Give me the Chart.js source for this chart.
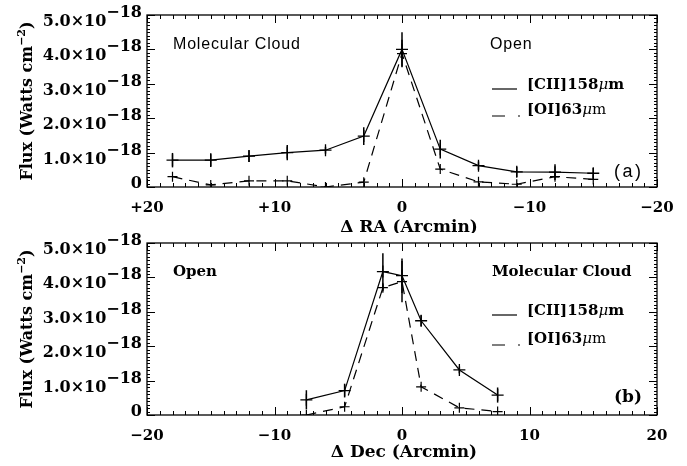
<!DOCTYPE html>
<html>
<head>
<meta charset="utf-8">
<script src="https://cdn.jsdelivr.net/npm/chart.js@4.4.0/dist/chart.umd.min.js"></script>
<style>
html, body { margin: 0; padding: 0; background: #fff; }
#wrap { position: relative; width: 687px; height: 466px; }
.panel { position: absolute; left: 0; width: 687px; height: 233px; }
</style>
</head>
<body>
<div id="wrap">
  <div class="panel" style="top:0"><canvas id="graphRA"></canvas></div>
  <div class="panel" style="top:233px"><canvas id="graphDec"></canvas></div>
</div>
<script>
// offsets in arcmin, flux in units of 1e-18 Watts cm^-2

// panel (a) : cut in RA
var ra_offsets = [18, 15, 12, 9, 6, 3, 0, -3, -6, -9, -12, -15];
var ra_cii     = [0.78, 0.78, 0.90, 1.00, 1.07, 1.48, 4.00, 1.10, 0.62, 0.44, 0.43, 0.40];
var ra_cii_err = [0.21, 0.20, 0.17, 0.22, 0.10, 0.26, 0.50, 0.27, 0.12, 0.15, 0.23, 0.15];
var ra_oi      = [0.30, 0.06, 0.18, 0.18, 0.00, 0.14, 3.88, 0.52, 0.15, 0.08, 0.30, 0.22];
var ra_oi_err  = [0, 0, 0, 0, 0, 0, 0.40, 0, 0, 0, 0, 0];

// panel (b) : cut in Dec
var dec_offsets = [-7.5, -4.5, -1.5, 0, 1.5, 4.5, 7.5];
var dec_cii     = [0.44, 0.71, 4.17, 4.05, 2.74, 1.31, 0.58];
var dec_cii_err = [0.28, 0.20, 0.53, 0.50, 0.16, 0.10, 0.22];
var dec_oi      = [0.00, 0.24, 3.70, 3.88, 0.82, 0.21, 0.10];
var dec_oi_err  = [0, 0, 0.10, 0.60, 0, 0, 0];

// axes
var y_ticks = [0, 1, 2, 3, 4, 5];
var y_exponent = "−18";
var legend_labels = ["[CII]158", "[OI]63"];

var SERIF_B = 'bold 15px "DejaVu Serif"';
var YLAB_F = 'bold 16px "DejaVu Serif"';

function toPoints(xs, ys){
    var pts = [];
    for(let i = 0; i < xs.length; i++){
        pts.push({x: xs[i], y: ys[i]});
    }
    return pts;
}

// text with a raised exponent, right aligned
function drawSupRight(ctx, base, sup, x, y, raise){
    var wb = ctx.measureText(base).width;
    var ws = ctx.measureText(sup).width;
    ctx.textAlign = "left";
    ctx.fillText(base, x - wb - ws, y);
    ctx.fillText(sup, x - ws, y - raise);
}

// frame, inward ticks, labels, error bars, notes and legend (IDL look)
var idlPlugin = {
    id: "idl",
    afterDatasetsDraw(chart, args, opts){
        var ctx = chart.ctx;
        var a = chart.chartArea;
        var xs = chart.scales.x, ys = chart.scales.y;
        ctx.save();
        ctx.strokeStyle = "#000";
        ctx.fillStyle = "#000";

        // error bars
        ctx.lineWidth = 1.5;
        chart.data.datasets.forEach(function(ds){
            ds.data.forEach(function(p, i){
                var e = ds.errors[i];
                if(!e) return;
                var px = xs.getPixelForValue(p.x);
                ctx.beginPath();
                ctx.moveTo(px, ys.getPixelForValue(p.y - e));
                ctx.lineTo(px, ys.getPixelForValue(p.y + e));
                ctx.stroke();
            });
        });

        // box
        ctx.lineWidth = 1.3;
        ctx.strokeRect(a.left, a.top, a.right - a.left, a.bottom - a.top);

        // x ticks, every arcmin
        ctx.lineWidth = 1;
        for(let v = -20; v <= 20; v++){
            var px = Math.round(xs.getPixelForValue(v)) + 0.5;
            var len = (v % 10 == 0) ? 8 : 4;
            ctx.beginPath();
            ctx.moveTo(px, a.bottom); ctx.lineTo(px, a.bottom - len);
            ctx.moveTo(px, a.top); ctx.lineTo(px, a.top + len);
            ctx.stroke();
        }
        // y ticks, every 0.1
        for(let k = 0; k <= 50; k++){
            var py = Math.round(ys.getPixelForValue(k / 10)) + 0.5;
            var len = (k % 10 == 0) ? 8 : 3;
            ctx.beginPath();
            ctx.moveTo(a.left, py); ctx.lineTo(a.left + len, py);
            ctx.moveTo(a.right, py); ctx.lineTo(a.right - len, py);
            ctx.stroke();
        }

        // y tick labels
        ctx.font = YLAB_F;
        ctx.textBaseline = "alphabetic";
        y_ticks.forEach(function(v){
            var py = ys.getPixelForValue(v);
            if(v == 0){
                ctx.textAlign = "right";
                ctx.fillText("0", a.left - 5, py + 1);
            } else {
                drawSupRight(ctx, v.toFixed(1) + "×10", y_exponent, a.left - 5, py + 11, 9);
            }
        });

        // y title (rotated)
        ctx.save();
        ctx.translate(32, (a.top + a.bottom) / 2);
        ctx.rotate(-Math.PI / 2);
        ctx.font = 'bold 16px "DejaVu Serif"';
        var t1 = "Flux (Watts cm", t2 = "−2", t3 = ")";
        var w1 = ctx.measureText(t1).width, w3 = ctx.measureText(t3).width;
        ctx.font = 'bold 11px "DejaVu Serif"';
        var w2 = ctx.measureText(t2).width;
        var x0 = -(w1 + w2 + w3) / 2;
        ctx.textAlign = "left";
        ctx.font = 'bold 16px "DejaVu Serif"';
        ctx.fillText(t1, x0, 0);
        ctx.fillText(t3, x0 + w1 + w2, 0);
        ctx.font = 'bold 11px "DejaVu Serif"';
        ctx.fillText(t2, x0 + w1, -7);
        ctx.restore();

        // x title
        ctx.font = 'bold 17px "DejaVu Serif"';
        ctx.textAlign = "center";
        ctx.textBaseline = "middle";
        ctx.fillText(opts.xtitle, (a.left + a.right) / 2 + opts.xtitleDx, a.bottom + opts.xtitleDy);

        // notes
        opts.notes.forEach(function(n){
            ctx.font = n.font;
            ctx.letterSpacing = n.spacing || "0px";
            ctx.textAlign = "left";
            ctx.textBaseline = "middle";
            ctx.fillText(n.text, n.x, a.top + n.dy);
        });
        ctx.letterSpacing = "0px";

        // legend
        var lg = opts.legend;
        ctx.lineWidth = 1.2;
        ctx.beginPath();
        ctx.moveTo(lg.x, a.top + lg.dy1 + 4); ctx.lineTo(lg.x + 25, a.top + lg.dy1 + 4);
        ctx.stroke();
        ctx.beginPath();
        ctx.moveTo(lg.x, a.top + lg.dy2 + 6); ctx.lineTo(lg.x + 13, a.top + lg.dy2 + 6);
        ctx.moveTo(lg.x + 26, a.top + lg.dy2 + 6); ctx.lineTo(lg.x + 28, a.top + lg.dy2 + 6);
        ctx.stroke();
        ctx.textBaseline = "middle";
        [lg.dy1, lg.dy2].forEach(function(dy, i){
            ctx.font = SERIF_B;
            ctx.textAlign = "left";
            var tx = lg.x + 35;
            ctx.fillText(legend_labels[i], tx, a.top + dy);
            tx += ctx.measureText(legend_labels[i]).width;
            ctx.font = 'italic 15px "DejaVu Serif"';
            ctx.fillText("μ", tx, a.top + dy);
            tx += ctx.measureText("μ").width;
            ctx.font = i == 0 ? SERIF_B : '15px "DejaVu Serif"';
            ctx.fillText("m", tx, a.top + dy);
        });

        ctx.restore();
    }
};

function makeChart(id, offsets, cii, ciiErr, oi, oiErr, reverse, xHeight, padTop, pluginOpts){
    var ctx = document.getElementById(id).getContext("2d");
    return new Chart(ctx, {
        type: "line",
        data: {
            datasets: [
                {
                    label: "[CII]158μm",
                    data: toPoints(offsets, cii),
                    errors: ciiErr,
                    borderColor: "#000",
                    borderWidth: 1.2,
                    pointStyle: "cross",
                    pointRadius: 6,
                    pointBorderWidth: 1.3,
                    pointBorderColor: "#000",
                    tension: 0
                },
                {
                    label: "[OI]63μm",
                    data: toPoints(offsets, oi),
                    errors: oiErr,
                    borderColor: "#000",
                    borderWidth: 1.2,
                    borderDash: [10, 7],
                    pointStyle: "cross",
                    pointRadius: 5,
                    pointBorderWidth: 1.2,
                    pointBorderColor: "#000",
                    tension: 0
                }
            ]
        },
        options: {
            responsive: true,
            maintainAspectRatio: false,
            animation: false,
            layout: { padding: { top: padTop, right: 30, left: 0, bottom: 0 } },
            scales: {
                x: {
                    type: "linear",
                    min: -20,
                    max: 20,
                    reverse: reverse,
                    grid: { display: false },
                    border: { display: false },
                    ticks: {
                        stepSize: 10,
                        color: "#000",
                        padding: 4,
                        font: { family: "DejaVu Serif", weight: "bold", size: 15 },
                        maxRotation: 0,
                        callback: function(v){
                            if(v == 0) return "0";
                            if(v < 0) return "−" + Math.abs(v);
                            return (reverse ? "+" : "") + v;
                        }
                    },
                    afterFit: function(s){ s.height = xHeight; }
                },
                y: {
                    min: 0,
                    max: 5,
                    grid: { display: false },
                    border: { display: false },
                    ticks: { display: false },
                    afterFit: function(s){ s.width = 147; }
                }
            },
            plugins: {
                legend: { display: false },
                tooltip: { enabled: false },
                idl: pluginOpts
            }
        },
        plugins: [idlPlugin]
    });
}

makeChart("graphRA", ra_offsets, ra_cii, ra_cii_err, ra_oi, ra_oi_err, true, 46, 15, {
    xtitle: "Δ RA (Arcmin)",
    xtitleDx: 7,
    xtitleDy: 41,
    notes: [
        { text: "Molecular Cloud", x: 173, dy: 30, font: '16px "Liberation Sans"', spacing: "0.8px" },
        { text: "Open", x: 490, dy: 30, font: '16px "Liberation Sans"', spacing: "0.8px" },
        { text: "(a)", x: 614, dy: 157, font: '18px "Liberation Sans"', spacing: "2.5px" }
    ],
    legend: { x: 492, dy1: 70, dy2: 95 }
});

makeChart("graphDec", dec_offsets, dec_cii, dec_cii_err, dec_oi, dec_oi_err, false, 51, 10, {
    xtitle: "Δ Dec (Arcmin)",
    xtitleDx: 2,
    xtitleDy: 38,
    notes: [
        { text: "Open", x: 173, dy: 29, font: SERIF_B },
        { text: "Molecular Cloud", x: 492, dy: 29, font: SERIF_B },
        { text: "(b)", x: 614, dy: 155, font: 'bold 17px "DejaVu Serif"' }
    ],
    legend: { x: 492, dy1: 68, dy2: 96 }
});
</script>
</body>
</html>
